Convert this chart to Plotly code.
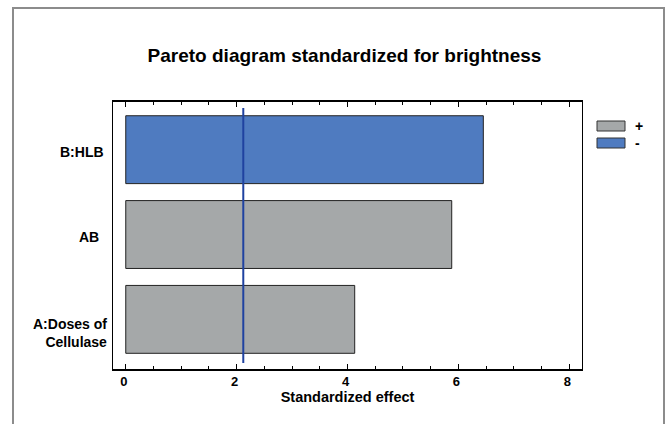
import plotly.graph_objects as go

# ---- data ----
categories = ["A:Doses of<br>Cellulase", "AB\u00a0\u00a0", "B:HLB\u00a0"]
effects = [4.13, 5.88, 6.45]
signs = ["+", "+", "-"]
critical_value = 2.12
x_tick_vals = [0, 2, 4, 6, 8]
legend_labels = ["+", "-"]

gray = "#a5a8a9"
blue = "#4f7bc0"
line_blue = "#1f42a0"
color_for = {"+": gray, "-": blue}
FONT = "Liberation Sans, Arial"

W, H = 669, 424
L, R, T, B = 113, 87, 102, 55
pw, ph = W - L - R, H - T - B


def px(xp):
    return (xp - L) / pw


def py(yp):
    return (H - B - yp) / ph


fig = go.Figure()
fig.add_trace(go.Bar(
    y=categories, x=effects, orientation="h",
    marker=dict(color=[color_for[s] for s in signs],
                line=dict(color="#222222", width=1)),
    showlegend=False, hoverinfo="x+y",
))

fig.add_shape(type="line", xref="x", yref="paper",
              x0=critical_value, x1=critical_value,
              y0=py(363), y1=py(108),
              line=dict(color=line_blue, width=2))

# outer frame
fig.add_shape(type="path", xref="paper", yref="paper",
              path=f"M {px(13)} {py(440)} L {px(13)} {py(8)} L {px(664)} {py(8)} L {px(664)} {py(440)}",
              line=dict(color="#8c8c8c", width=2))

# category labels
label_shift = [-14, -2, -2]
for cat, sh in zip(categories, label_shift):
    fig.add_annotation(xref="paper", yref="y", x=px(108.5), y=cat,
                       text=f"<b>{cat}</b>", showarrow=False, xanchor="right",
                       yanchor="middle", align="right", yshift=sh,
                       font=dict(size=14, color="black", family=FONT))

# legend
box_rows = [(121, 131, 126), (138, 148, 143)]
for lab, (y0, y1, yc) in zip(legend_labels, box_rows):
    fig.add_shape(type="rect", xref="paper", yref="paper",
                  x0=px(597), x1=px(625), y0=py(y1), y1=py(y0),
                  fillcolor=color_for[lab], line=dict(color="#333333", width=1))
    fig.add_annotation(xref="paper", yref="paper", x=px(633), y=py(yc),
                       text=f"<b>{lab}</b>", showarrow=False, xanchor="left",
                       yanchor="middle",
                       font=dict(size=14, color="black", family=FONT))

fig.update_layout(
    width=W, height=H,
    margin=dict(l=L, r=R, t=T, b=B),
    paper_bgcolor="white", plot_bgcolor="white",
    bargap=0.2,
    title=dict(text="<b>Pareto diagram standardized for brightness</b>",
               x=344.5 / W, xanchor="center", y=1 - 55 / H, yanchor="middle",
               font=dict(size=19, color="black", family=FONT)),
    font=dict(family=FONT, color="black", size=14),
    xaxis=dict(range=[-0.23, 8.23], tickvals=x_tick_vals,
               ticktext=[f"<b>{v}</b>" for v in x_tick_vals],
               ticks="inside", ticklen=5, tickcolor="black", tickwidth=1,
               minor=dict(dtick=0.5, ticks="inside", ticklen=3, tickcolor="black"),
               showline=True, linecolor="black", linewidth=1.5, mirror="allticks",
               showgrid=False, zeroline=False,
               tickfont=dict(size=13), ticklabelshift=-2,
               title=dict(text="<b>Standardized effect</b>", standoff=3,
                          font=dict(size=14.5))),
    yaxis=dict(range=[-0.585, 2.562], showline=True, linecolor="black",
               linewidth=1, mirror=True, showgrid=False, zeroline=False,
               ticks="", showticklabels=False),
)

fig.write_html("out.html")
